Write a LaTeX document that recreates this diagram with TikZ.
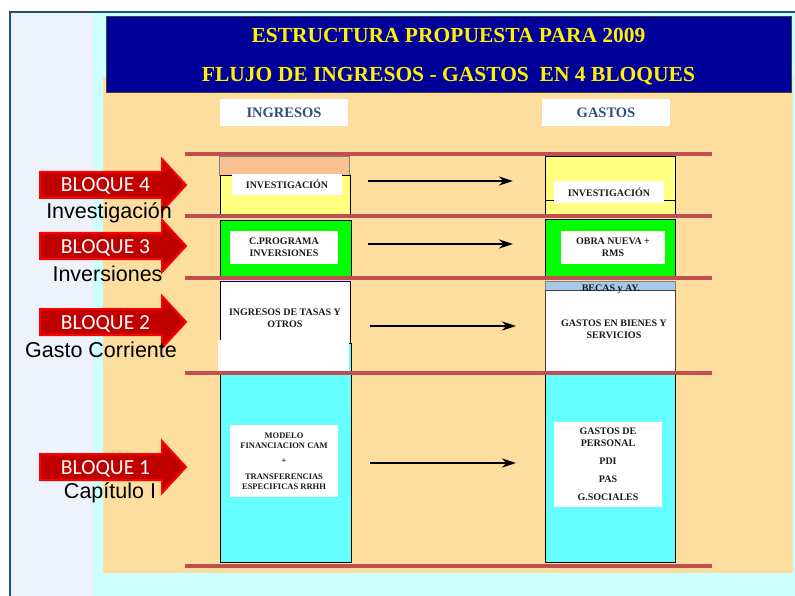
\documentclass[tikz,border=0pt]{standalone}
\usepackage{fontspec}
\setmainfont{Liberation Serif}
\newfontfamily\calibrifont{Carlito}
\newfontfamily\arialfont{Liberation Sans}
\usetikzlibrary{arrows.meta}
\definecolor{navyframe}{HTML}{1F4E79}
\definecolor{lavender}{HTML}{EEF2FB}
\definecolor{lightcyan}{HTML}{CCFFFF}
\definecolor{peach}{HTML}{FDDE9F}
\definecolor{titleblue}{HTML}{000099}
\definecolor{redline}{HTML}{C0504D}
\definecolor{salmon}{HTML}{FAC090}
\definecolor{lightyellow}{HTML}{FFFF80}
\definecolor{brightgreen}{HTML}{00FF00}
\definecolor{cyanbox}{HTML}{66FFFF}
\definecolor{strip}{HTML}{A6C9EC}
\definecolor{headblue}{HTML}{2F4F7F}
\definecolor{blockred}{HTML}{C00000}
\definecolor{textgray}{HTML}{1A1A1A}

\begin{document}
\begin{tikzpicture}[x=1pt,y=-1pt,
  bar/.style={draw=redline,line width=4pt},
  col/.style={draw=black,line width=0.8pt},
  lbl/.style={fill=white,inner sep=0pt,align=center,text=textgray,font=\bfseries\fontsize{10}{11.7}\selectfont},
  hdr/.style={fill=white,inner sep=0pt,minimum width=128,minimum height=27,text=headblue,font=\bfseries\fontsize{14.5}{17}\selectfont},
  titletext/.style={text=yellow,font=\bfseries\fontsize{21.5}{26}\selectfont},
  flow/.style={line width=2.6pt,-{Stealth[length=14pt,width=9pt,inset=4.5pt]}},
  blk/.style={fill=blockred,draw=red,line width=2pt},
  blktext/.style={text=white,font=\calibrifont\fontsize{21.5}{25}\selectfont},
  subtext/.style={text=black,font=\arialfont\fontsize{21.5}{25}\selectfont}]

  \useasboundingbox (0,0) rectangle (795,596);
  \fill[white] (0,0) rectangle (795,596);
  \fill[lavender] (10,12) rectangle (93,596);
  \fill[lightcyan] (93,12) rectangle (795,596);
  \fill[peach] (103,77) rectangle (793,573);
  \draw[navyframe,line width=2.5pt] (10,600) -- (10,12) -- (800,12);

  \node[draw=darkgray,fill=titleblue,minimum width=685,minimum height=76,inner sep=0pt] (title) at (448.5,54) {};
  \node[titletext,anchor=base] (t1) at (448.5,43) {ESTRUCTURA PROPUESTA PARA 2009};
  \node[titletext,anchor=base] (t2) at (448.5,82) {FLUJO DE INGRESOS - GASTOS\ \ EN 4 BLOQUES};

  \node[hdr] (ing) at (284,112.5) {INGRESOS};
  \node[hdr] (gas) at (606,112.5) {GASTOS};

  % ingresos
  \filldraw[fill=salmon,draw=gray] (219,156) rectangle (349,175);
  \filldraw[fill=lightyellow,col] (220,175) rectangle (350,216);
  \filldraw[fill=brightgreen,col] (220,220) rectangle (351,276);
  \filldraw[fill=white,col] (220,281) rectangle (350,343);
  \draw[titleblue,line width=1pt] (220,281) -- (350,281);
  \filldraw[fill=cyanbox,col] (220,343) rectangle (351,562);
  \fill[white] (218,340) rectangle (349,373);

  % gastos
  \filldraw[fill=lightyellow,col] (545,156) rectangle (675,216);
  \draw[col] (545,200) -- (675,200);
  \filldraw[fill=brightgreen,col] (545,219) rectangle (675,276);
  \filldraw[fill=strip,draw=gray,line width=0.8pt] (545,281) rectangle (675,290);
  \filldraw[fill=white,draw=darkgray,line width=0.8pt] (545,290) rectangle (675,371);
  \filldraw[fill=cyanbox,col] (545,373) rectangle (675,562);

  \foreach \y in {154,216,278,373,566}
    \draw[bar] (185,\y) -- (712,\y);

  \node[lbl,minimum width=110,minimum height=21] (inv4) at (287,184.5) {INVESTIGACIÓN};
  \node[lbl,minimum width=110,minimum height=22] (gas4) at (609,192) {INVESTIGACIÓN};
  \node[lbl,minimum width=108,minimum height=33] (inv3) at (284,247.5) {C.PROGRAMA\\INVERSIONES};
  \node[lbl,minimum width=104,minimum height=33] (gas3) at (613,247.5) {OBRA NUEVA +\\RMS};
  \node[lbl,fill=none] (inv2) at (285,318) {INGRESOS DE TASAS Y\\OTROS};
  \node[lbl,fill=none,anchor=base] (becas) at (611,291.5) {BECAS y AY.};
  \node[lbl,fill=none] (gas2) at (614,329.5) {GASTOS EN BIENES Y\\SERVICIOS};
  \node[lbl,minimum width=108,minimum height=72,font=\bfseries\fontsize{8.5}{10.3}\selectfont] (inv1) at (284,461)
    {MODELO\\FINANCIACION CAM\\[5pt]+\\[5pt]TRANSFERENCIAS\\ESPECIFICAS RRHH};
  \node[lbl,minimum width=108,minimum height=85] (gas1) at (608,464.5)
    {GASTOS DE\\PERSONAL\\[6.4pt]PDI\\[6.4pt]PAS\\[6.4pt]G.SOCIALES};

  \foreach \n/\y/\xa/\xb in {4/181/368/513,3/244/368/513,2/326/370/516,1/463/370/516} {
    \coordinate (src\n) at (\xa,\y);
    \coordinate (dst\n) at (\xb,\y);
    \draw[flow] (src\n) -- (dst\n);
  }

  \foreach \n/\y in {4/185,3/246,2/322,1/467} {
    \filldraw[blk] (40,\y-13) -- (162,\y-13) -- (162,\y-26) -- (186,\y) -- (162,\y+26) -- (162,\y+13) -- (40,\y+13) -- cycle;
    \node[blktext,anchor=base] (b\n) at (105.5,\y+7) {BLOQUE \n};
  }
  \node[subtext,anchor=base] (sub4) at (109,218.5) {Investigación};
  \node[subtext,anchor=base] (sub3) at (107.5,281.7) {Inversiones};
  \node[subtext,anchor=base] (sub2) at (101,357.3) {Gasto Corriente};
  \node[subtext,anchor=base] (sub1) at (110,498.3) {Capítulo I};
\end{tikzpicture}
\end{document}
